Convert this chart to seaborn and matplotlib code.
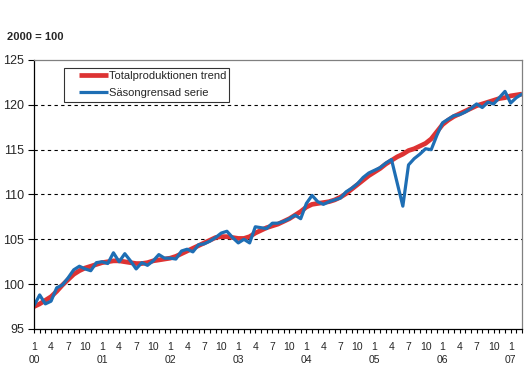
import numpy as np
import pandas as pd
import matplotlib
matplotlib.use("Agg")
import matplotlib.pyplot as plt
from matplotlib.lines import Line2D
from matplotlib.legend_handler import HandlerLine2D
from matplotlib.ticker import MultipleLocator
import seaborn as sns

# monthly index, Jan 2000 - Mar 2007 (2000 = 100)
months = pd.date_range("2000-01-01", "2007-03-01", freq="MS")

trend = [
    97.5, 97.8, 98.2, 98.6, 99.2, 99.9, 100.5, 101.1, 101.5, 101.8, 102.0, 102.2,
    102.4, 102.5, 102.6, 102.6, 102.5, 102.4, 102.3, 102.3, 102.4, 102.6, 102.7, 102.8,
    102.9, 103.1, 103.4, 103.7, 104.0, 104.3, 104.6, 104.9, 105.2, 105.3, 105.3, 105.2,
    105.1, 105.1, 105.3, 105.7, 106.0, 106.3, 106.5, 106.7, 107.0, 107.3, 107.7, 108.1,
    108.6, 108.9, 109.0, 109.1, 109.2, 109.4, 109.7, 110.1, 110.6, 111.1, 111.6, 112.1,
    112.5, 112.9, 113.4, 113.8, 114.2, 114.5, 114.9, 115.1, 115.4, 115.7, 116.2, 117.0,
    117.8, 118.3, 118.7, 119.0, 119.3, 119.6, 119.9, 120.1, 120.3, 120.5, 120.7, 120.8,
    121.0, 121.1, 121.2,
]

adjusted = [
    97.6, 98.8, 97.8, 98.1, 99.6, 99.9, 100.7, 101.6, 102.0, 101.7, 101.5, 102.4,
    102.5, 102.3, 103.5, 102.5, 103.4, 102.6, 101.7, 102.4, 102.1, 102.6, 103.3, 102.9,
    102.9, 102.8, 103.7, 103.9, 103.6, 104.4, 104.5, 104.8, 105.2, 105.7, 105.9, 105.2,
    104.6, 105.0, 104.6, 106.4, 106.3, 106.2, 106.8, 106.8, 107.0, 107.3, 107.7, 107.3,
    109.0, 109.9, 109.2, 108.9, 109.2, 109.4, 109.6, 110.3, 110.7, 111.2, 111.9, 112.4,
    112.7, 113.0, 113.5, 113.9, 111.3, 108.7, 113.3, 114.0, 114.5, 115.1, 115.0, 116.6,
    118.0, 118.4, 118.8, 118.9, 119.2, 119.6, 120.1, 119.7, 120.3, 120.1, 120.8, 121.5,
    120.2, 120.8, 121.2,
]

trend_label = "Totalproduktionen trend"
adjusted_label = "Säsongrensad serie"
red = "#DD3333"
blue = "#1E6EB4"

df = pd.DataFrame({
    "t": np.arange(len(months)),
    trend_label: trend,
    adjusted_label: adjusted,
})

sns.set_style("white")
plt.rcParams["font.family"] = ["Liberation Sans", "DejaVu Sans"]

fig = plt.figure(figsize=(5.29, 3.73), dpi=100)
ax = fig.add_axes([34 / 529, 1 - 329 / 373, 488 / 529, 269 / 373])

sns.lineplot(data=df, x="t", y=trend_label, color=red, linewidth=3.4,
             label=trend_label, ax=ax, solid_capstyle="butt")
sns.lineplot(data=df, x="t", y=adjusted_label, color=blue, linewidth=2.3,
             label=adjusted_label, ax=ax)

ax.set_xlim(0, len(months) - 1)
ax.set_ylim(95, 125)
ax.set_xlabel("")
ax.set_ylabel("")

# y axis
ax.set_yticks(np.arange(95, 126, 5))
ax.tick_params(axis="y", which="major", direction="out", length=4, width=0.8,
               color="black", labelsize=9, pad=3, left=True)
ax.yaxis.grid(True, color="black", linestyle=(0, (3, 3)), linewidth=0.8)
gl = ax.yaxis.get_gridlines()
gl[0].set_visible(False)
gl[-1].set_visible(False)

# x axis: month ticks, quarter labels, year under January
quarter_pos = [i for i, m in enumerate(months) if m.month in (1, 4, 7, 10)]
quarter_lab = [
    f"{months[i].month}\n{months[i].strftime('%y')}" if months[i].month == 1
    else f"{months[i].month}"
    for i in quarter_pos
]
ax.set_xticks(quarter_pos)
ax.set_xticklabels(quarter_lab, linespacing=1.4,
                   family=["Liberation Sans Narrow", "Liberation Sans"])
ax.xaxis.set_minor_locator(MultipleLocator(1))
ax.tick_params(axis="x", which="both", direction="out", length=3, width=0.8,
               color="black", bottom=True, labelsize=7.5, pad=6.5)

for side in ["left", "bottom"]:
    ax.spines[side].set_color("black")
    ax.spines[side].set_linewidth(0.9)
for side in ["top", "right"]:
    ax.spines[side].set_color("#808080")
    ax.spines[side].set_linewidth(0.9)

leg = ax.legend(loc="upper left", bbox_to_anchor=(30 / 488, 1 - 7.7 / 269),
                frameon=True, fancybox=False, fontsize=8, borderpad=0.3,
                labelspacing=0.65, handlelength=3.67, handletextpad=0.05,
                borderaxespad=0, handler_map={Line2D: HandlerLine2D(xpad=1.05)})
leg.get_frame().set_edgecolor("black")
leg.get_frame().set_linewidth(0.8)
for h in leg.get_lines():
    h.set_solid_capstyle("butt")

fig.text(7 / 529, 1 - 37 / 373, "2000 = 100", fontsize=8, fontweight="bold",
         va="center", ha="left")

fig.savefig("out.png", dpi=100)
